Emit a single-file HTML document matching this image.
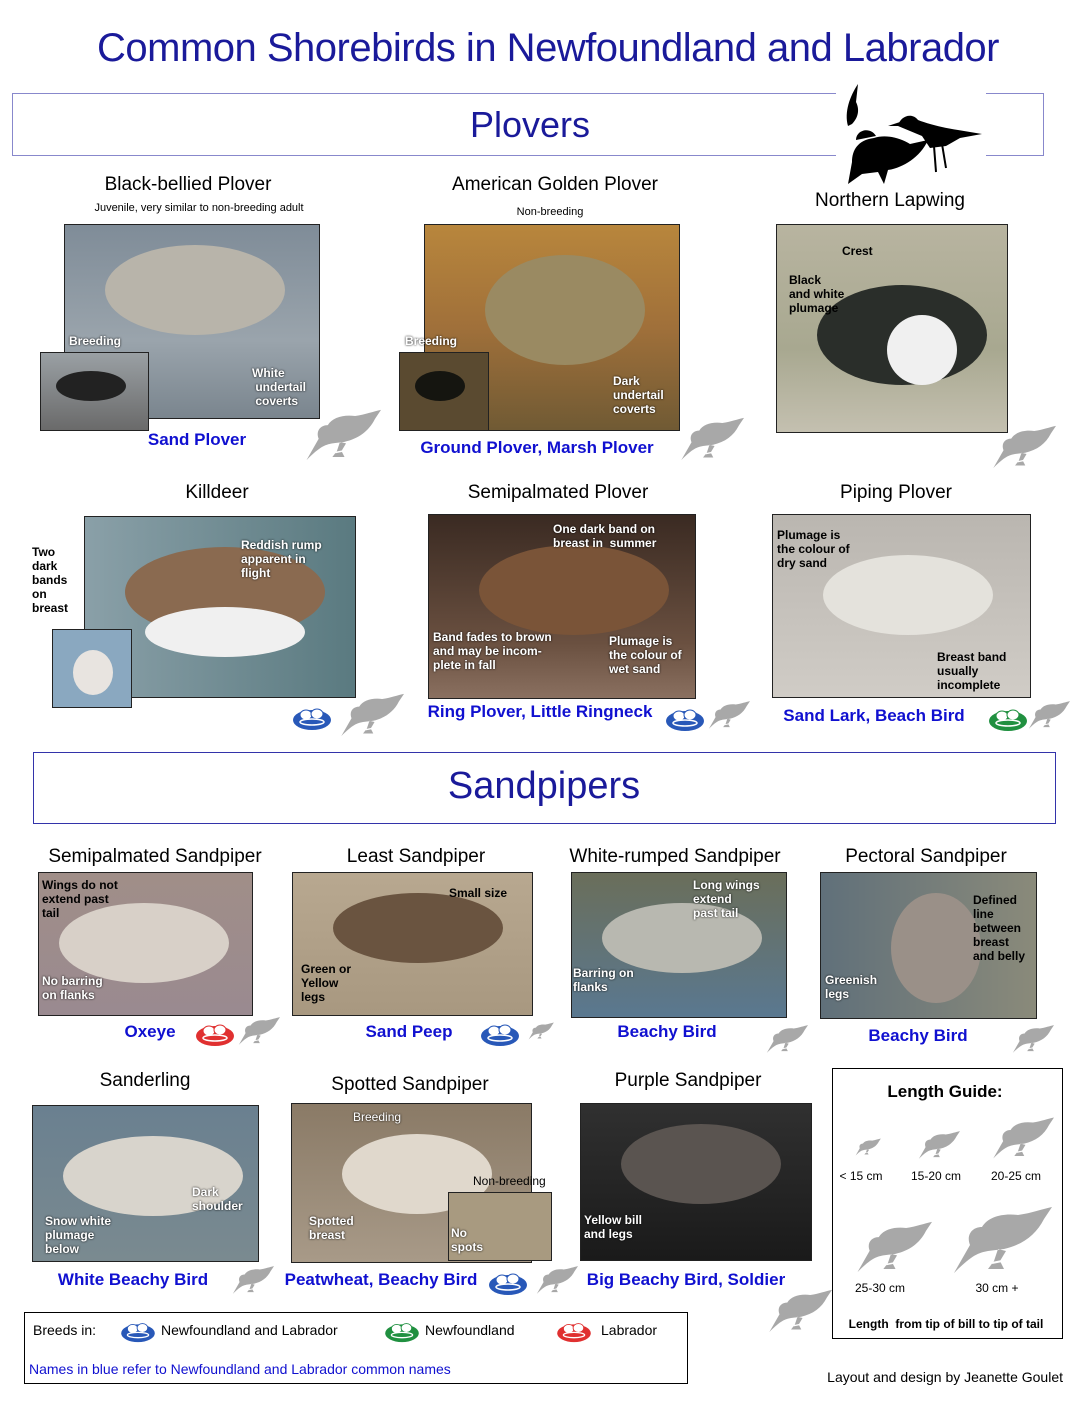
<!DOCTYPE html>
<html><head><meta charset="utf-8">
<style>
body{margin:0;width:1088px;height:1408px;background:#fff;position:relative;overflow:hidden;font-family:"Liberation Sans",sans-serif}
.a{position:absolute}
.t{position:absolute;transform:translateX(-50%);white-space:nowrap;font-size:19px;color:#000}
.n{position:absolute;transform:translateX(-50%);white-space:nowrap;font-size:17px;color:#1010d0;font-weight:bold}
.p{position:absolute;border:1px solid #222;box-sizing:border-box;overflow:hidden}
.l{position:absolute;font-size:12px;font-weight:bold;color:#fff;line-height:14px;text-shadow:0 0 2px #000}
.lb{position:absolute;font-size:12px;font-weight:bold;color:#000;line-height:14px}
.h{font-family:"Liberation Sans",sans-serif;color:#1a1a9a;position:absolute;transform:translateX(-50%);white-space:nowrap}
svg.s{position:absolute}
</style></head><body>
<svg width="0" height="0" style="position:absolute"><defs>
<symbol id="sil" viewBox="0 0 100 70"><path d="M2,68 L18,40 C14,30 20,22 30,22 C36,12 50,8 66,10 C80,8 90,4 100,2 L92,14 C84,30 70,40 52,44 L36,46 C26,48 20,50 2,68 Z M46,44 L42,56 L36,64 L52,64 L48,56 L54,46Z" fill="#a8a8a8"/><path d="M40,58 L50,56" stroke="#fff" stroke-width="2"/></symbol>
<symbol id="nest" viewBox="0 0 40 26"><ellipse cx="20" cy="15" rx="19" ry="10" fill="currentColor"/><ellipse cx="14" cy="10" rx="6" ry="5" fill="#fff" stroke="currentColor"/><ellipse cx="25" cy="9" rx="6" ry="5" fill="#fff" stroke="currentColor"/><ellipse cx="20" cy="17" rx="12" ry="3" fill="none" stroke="#fff" stroke-width="1.5"/></symbol>
</defs></svg>

<div class="h" style="left:548px;top:26px;font-size:40px;letter-spacing:-0.5px">Common Shorebirds in Newfoundland and Labrador</div>
<div class="a" style="left:12px;top:93px;width:1032px;height:63px;border:1px solid #8888cc;box-sizing:border-box"></div>
<div class="h" style="left:530px;top:104px;font-size:36px">Plovers</div>
<div class="a" style="left:836px;top:80px;width:150px;height:110px;background:#fff"></div>
<svg class="s" style="left:838px;top:80px" width="150" height="110" viewBox="0 0 150 110">
<path d="M10,46 C6,32 12,16 20,4 L18,22 C22,30 20,38 14,44Z" fill="#000"/>
<path d="M60,46 C62,36 74,32 80,40 C90,44 106,48 120,50 L144,54 L122,58 L108,66 L92,68 L84,56Z" fill="#000"/>
<path d="M62,42 L50,46 L64,46Z" fill="#000"/><path d="M96,66 L98,92 M104,64 L108,88" stroke="#000" stroke-width="2"/>
<path d="M10,104 L14,82 C14,70 20,60 36,58 C48,54 62,58 72,64 L90,60 C82,78 64,88 50,90 L46,104 L40,92 L24,94 Z" fill="#000"/>
<path d="M18,60 C18,50 32,46 38,56Z" fill="#000"/>
</svg>

<!-- Row 1 -->
<div class="t" style="left:188px;top:174px">Black-bellied Plover</div>
<div class="t" style="left:199px;top:202px;font-size:11px">Juvenile, very similar to non-breeding adult</div>
<div class="p" style="left:64px;top:224px;width:256px;height:195px;background:linear-gradient(#7f8c98,#9aa4ac 60%,#7a858e)"><div class="a" style="left:40px;top:20px;width:180px;height:90px;border-radius:50%;background:#b8b4aa"></div></div>
<div class="l" style="left:69px;top:334px">Breeding</div>
<div class="l" style="left:252px;top:366px">White<br>&nbsp;undertail<br>&nbsp;coverts</div>
<div class="p" style="left:40px;top:352px;width:109px;height:79px;background:linear-gradient(#9aa0a4,#6a6a6a)"><div class="a" style="left:15px;top:18px;width:70px;height:30px;border-radius:50%;background:#222"></div></div>
<div class="n" style="left:197px;top:430px">Sand Plover</div>
<svg class="s" style="left:305px;top:408px" width="76" height="54"><use href="#sil"/></svg>

<div class="t" style="left:555px;top:174px">American Golden Plover</div>
<div class="t" style="left:550px;top:206px;font-size:11px">Non-breeding</div>
<div class="p" style="left:424px;top:224px;width:256px;height:207px;background:linear-gradient(#b8863c,#a0703a 50%,#705a34)"><div class="a" style="left:60px;top:30px;width:160px;height:110px;border-radius:50%;background:#9a8a62"></div></div>
<div class="l" style="left:405px;top:334px">Breeding</div>
<div class="l" style="left:613px;top:374px">Dark<br>undertail<br>coverts</div>
<div class="p" style="left:399px;top:352px;width:90px;height:79px;background:#5a4a30"><div class="a" style="left:15px;top:18px;width:50px;height:30px;border-radius:50%;background:#151510"></div></div>
<div class="n" style="left:537px;top:438px">Ground Plover, Marsh Plover</div>
<svg class="s" style="left:680px;top:416px" width="64" height="46"><use href="#sil"/></svg>

<div class="t" style="left:890px;top:190px">Northern Lapwing</div>
<div class="p" style="left:776px;top:224px;width:232px;height:209px;background:linear-gradient(#b8b4a0,#a8a890 60%,#c4c0b0)"><div class="a" style="left:40px;top:60px;width:170px;height:100px;border-radius:50%;background:#2a2e2a"></div><div class="a" style="left:110px;top:90px;width:70px;height:70px;border-radius:50%;background:#f0f0f0"></div></div>
<div class="lb" style="left:842px;top:244px">Crest</div>
<div class="lb" style="left:789px;top:273px">Black<br>and white<br>plumage</div>
<svg class="s" style="left:992px;top:424px" width="64" height="46"><use href="#sil"/></svg>

<!-- Row 2 -->
<div class="t" style="left:217px;top:482px">Killdeer</div>
<div class="p" style="left:84px;top:516px;width:272px;height:182px;background:linear-gradient(90deg,#8aa0a8,#5a7a80)"><div class="a" style="left:40px;top:30px;width:200px;height:90px;border-radius:50%;background:#8a6a50"></div><div class="a" style="left:60px;top:90px;width:160px;height:50px;border-radius:50%;background:#f0f0f0"></div></div>
<div class="lb" style="left:32px;top:545px">Two<br>dark<br>bands<br>on<br>breast</div>
<div class="l" style="left:241px;top:538px">Reddish rump<br>apparent in<br>flight</div>
<div class="p" style="left:52px;top:629px;width:80px;height:79px;background:#8aa8c0"><div class="a" style="left:20px;top:20px;width:40px;height:45px;border-radius:50%;background:#e8e4e0"></div></div>
<svg class="s" style="left:292px;top:705px;color:#2858b8" width="40" height="26"><use href="#nest"/></svg>
<svg class="s" style="left:340px;top:692px" width="64" height="46"><use href="#sil"/></svg>

<div class="t" style="left:558px;top:482px">Semipalmated Plover</div>
<div class="p" style="left:428px;top:514px;width:268px;height:185px;background:linear-gradient(#3a2a22,#6a5040 70%,#8a7060)"><div class="a" style="left:50px;top:30px;width:190px;height:90px;border-radius:50%;background:#7a5438"></div></div>
<div class="l" style="left:553px;top:522px">One dark band on<br>breast in&nbsp; summer</div>
<div class="l" style="left:433px;top:630px">Band fades to brown<br>and may be incom-<br>plete in fall</div>
<div class="l" style="left:609px;top:634px">Plumage is<br>the colour of<br>wet sand</div>
<div class="n" style="left:540px;top:702px">Ring Plover, Little Ringneck</div>
<svg class="s" style="left:665px;top:706px;color:#2858b8" width="40" height="26"><use href="#nest"/></svg>
<svg class="s" style="left:708px;top:700px" width="42" height="30"><use href="#sil"/></svg>

<div class="t" style="left:896px;top:482px">Piping Plover</div>
<div class="p" style="left:772px;top:514px;width:259px;height:184px;background:linear-gradient(#bab6b0,#d0ccc6)"><div class="a" style="left:50px;top:40px;width:170px;height:80px;border-radius:50%;background:#e4e2dc"></div></div>
<div class="lb" style="left:777px;top:528px">Plumage is<br>the colour of<br>dry sand</div>
<div class="lb" style="left:937px;top:650px">Breast band<br>usually<br>incomplete</div>
<div class="n" style="left:874px;top:706px">Sand Lark, Beach Bird</div>
<svg class="s" style="left:988px;top:706px;color:#209040" width="40" height="26"><use href="#nest"/></svg>
<svg class="s" style="left:1028px;top:700px" width="42" height="30"><use href="#sil"/></svg>

<!-- Sandpipers -->
<div class="a" style="left:33px;top:752px;width:1023px;height:72px;border:1px solid #3333aa;box-sizing:border-box"></div>
<div class="h" style="left:544px;top:765px;font-size:38px">Sandpipers</div>

<div class="t" style="left:155px;top:846px">Semipalmated Sandpiper</div>
<div class="p" style="left:38px;top:872px;width:215px;height:144px;background:linear-gradient(#a08e88,#9a8a90)"><div class="a" style="left:20px;top:30px;width:170px;height:80px;border-radius:50%;background:#d8d0c8"></div></div>
<div class="lb" style="left:42px;top:878px">Wings do not<br>extend past<br>tail</div>
<div class="l" style="left:42px;top:974px">No barring<br>on flanks</div>
<div class="n" style="left:150px;top:1022px">Oxeye</div>
<svg class="s" style="left:195px;top:1021px;color:#e03030" width="40" height="26"><use href="#nest"/></svg>
<svg class="s" style="left:238px;top:1016px" width="42" height="30"><use href="#sil"/></svg>

<div class="t" style="left:416px;top:846px">Least Sandpiper</div>
<div class="p" style="left:292px;top:872px;width:241px;height:144px;background:linear-gradient(#b8a890,#a89880)"><div class="a" style="left:40px;top:20px;width:170px;height:70px;border-radius:50%;background:#6a5440"></div></div>
<div class="lb" style="left:449px;top:886px">Small size</div>
<div class="lb" style="left:301px;top:962px">Green or<br>Yellow<br>legs</div>
<div class="n" style="left:409px;top:1022px">Sand Peep</div>
<svg class="s" style="left:480px;top:1021px;color:#2858b8" width="40" height="26"><use href="#nest"/></svg>
<svg class="s" style="left:528px;top:1022px" width="26" height="18"><use href="#sil"/></svg>

<div class="t" style="left:675px;top:846px">White-rumped Sandpiper</div>
<div class="p" style="left:571px;top:872px;width:216px;height:146px;background:linear-gradient(#6a6e5a,#5a7890)"><div class="a" style="left:30px;top:30px;width:160px;height:70px;border-radius:50%;background:#b8b8b0"></div></div>
<div class="l" style="left:693px;top:878px">Long wings<br>extend<br>past tail</div>
<div class="l" style="left:573px;top:966px">Barring on<br>flanks</div>
<div class="n" style="left:667px;top:1022px">Beachy Bird</div>
<svg class="s" style="left:766px;top:1024px" width="42" height="30"><use href="#sil"/></svg>

<div class="t" style="left:926px;top:846px">Pectoral Sandpiper</div>
<div class="p" style="left:820px;top:872px;width:217px;height:147px;background:linear-gradient(90deg,#60707a,#8a8a7a)"><div class="a" style="left:70px;top:20px;width:90px;height:110px;border-radius:50%;background:#9a9088"></div></div>
<div class="lb" style="left:973px;top:893px">Defined<br>line<br>between<br>breast<br>and belly</div>
<div class="l" style="left:825px;top:973px">Greenish<br>legs</div>
<div class="n" style="left:918px;top:1026px">Beachy Bird</div>
<svg class="s" style="left:1012px;top:1024px" width="42" height="30"><use href="#sil"/></svg>

<!-- Row 4 -->
<div class="t" style="left:145px;top:1070px">Sanderling</div>
<div class="p" style="left:32px;top:1105px;width:227px;height:157px;background:linear-gradient(#6a8090,#7a8a90)"><div class="a" style="left:30px;top:30px;width:180px;height:80px;border-radius:50%;background:#d8d4cc"></div></div>
<div class="l" style="left:192px;top:1185px">Dark<br>shoulder</div>
<div class="l" style="left:45px;top:1214px">Snow white<br>plumage<br>below</div>
<div class="n" style="left:133px;top:1270px">White Beachy Bird</div>
<svg class="s" style="left:232px;top:1265px" width="42" height="30"><use href="#sil"/></svg>

<div class="t" style="left:410px;top:1074px">Spotted Sandpiper</div>
<div class="p" style="left:291px;top:1103px;width:241px;height:160px;background:linear-gradient(#8a7a66,#a89a88)"><div class="a" style="left:50px;top:30px;width:150px;height:80px;border-radius:50%;background:#e0d8cc"></div></div>
<div class="l" style="left:353px;top:1110px;font-weight:normal">Breeding</div>
<div class="l" style="left:309px;top:1214px">Spotted<br>breast</div>
<div class="lb" style="left:473px;top:1174px;font-weight:normal">Non-breeding</div>
<div class="p" style="left:448px;top:1192px;width:104px;height:69px;background:#a89a80"></div>
<div class="l" style="left:451px;top:1226px">No<br>spots</div>
<div class="n" style="left:381px;top:1270px">Peatwheat, Beachy Bird</div>
<svg class="s" style="left:488px;top:1270px;color:#2858b8" width="40" height="26"><use href="#nest"/></svg>
<svg class="s" style="left:536px;top:1265px" width="42" height="30"><use href="#sil"/></svg>

<div class="t" style="left:688px;top:1070px">Purple Sandpiper</div>
<div class="p" style="left:580px;top:1103px;width:232px;height:158px;background:linear-gradient(#303030,#1a1a1a)"><div class="a" style="left:40px;top:20px;width:160px;height:80px;border-radius:50%;background:#5a5450"></div></div>
<div class="l" style="left:584px;top:1213px">Yellow bill<br>and legs</div>
<div class="n" style="left:686px;top:1270px">Big Beachy Bird, Soldier</div>
<svg class="s" style="left:768px;top:1288px" width="64" height="46"><use href="#sil"/></svg>

<!-- Length guide -->
<div class="a" style="left:832px;top:1068px;width:231px;height:271px;border:1px solid #000;box-sizing:border-box"></div>
<div class="t" style="left:945px;top:1082px;font-weight:bold;font-size:17px">Length Guide:</div>
<svg class="s" style="left:855px;top:1138px" width="26" height="18"><use href="#sil"/></svg>
<svg class="s" style="left:918px;top:1130px" width="42" height="30"><use href="#sil"/></svg>
<svg class="s" style="left:992px;top:1116px" width="62" height="44"><use href="#sil"/></svg>
<svg class="s" style="left:856px;top:1220px" width="76" height="54"><use href="#sil"/></svg>
<svg class="s" style="left:952px;top:1205px" width="100" height="70"><use href="#sil"/></svg>
<div class="t" style="left:861px;top:1169px;font-size:12px">&lt; 15 cm</div>
<div class="t" style="left:936px;top:1169px;font-size:12px">15-20 cm</div>
<div class="t" style="left:1016px;top:1169px;font-size:12px">20-25 cm</div>
<div class="t" style="left:880px;top:1281px;font-size:12px">25-30 cm</div>
<div class="t" style="left:997px;top:1281px;font-size:12px">30 cm +</div>
<div class="t" style="left:946px;top:1317px;font-size:12px;font-weight:bold">Length&nbsp; from tip of bill to tip of tail</div>

<!-- Legend -->
<div class="a" style="left:24px;top:1312px;width:664px;height:72px;border:1px solid #000;box-sizing:border-box"></div>
<div class="a" style="left:33px;top:1322px;font-size:14px">Breeds in:</div>
<svg class="s" style="left:120px;top:1320px;color:#2858b8" width="36" height="23"><use href="#nest"/></svg>
<div class="a" style="left:161px;top:1322px;font-size:14px">Newfoundland and Labrador</div>
<svg class="s" style="left:384px;top:1320px;color:#209040" width="36" height="23"><use href="#nest"/></svg>
<div class="a" style="left:425px;top:1322px;font-size:14px">Newfoundland</div>
<svg class="s" style="left:556px;top:1320px;color:#e03030" width="36" height="23"><use href="#nest"/></svg>
<div class="a" style="left:601px;top:1322px;font-size:14px">Labrador</div>
<div class="a" style="left:29px;top:1361px;font-size:14px;color:#1010d0">Names in blue refer to Newfoundland and Labrador common names</div>
<div class="a" style="right:25px;top:1369px;font-size:14px">Layout and design by Jeanette Goulet</div>
</body></html>
